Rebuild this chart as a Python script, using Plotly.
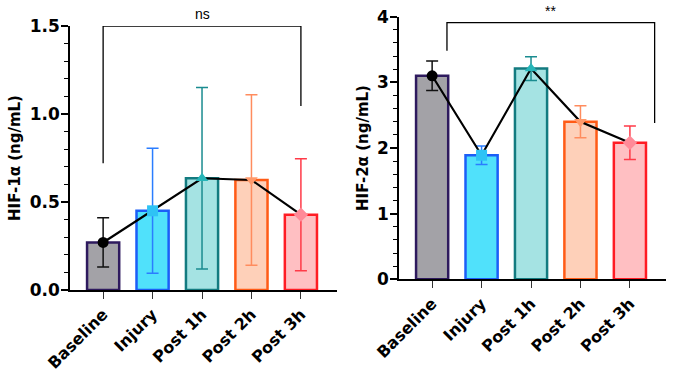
import plotly.graph_objects as go

categories = ["Baseline", "Injury", "Post 1h", "Post 2h", "Post 3h"]

hif1_mean = [0.27, 0.45, 0.635, 0.625, 0.428]
hif1_sd = [0.14, 0.355, 0.515, 0.485, 0.318]

hif2_mean = [3.10, 1.89, 3.21, 2.40, 2.08]
hif2_sd = [0.225, 0.14, 0.18, 0.245, 0.255]

fill_colors = ["#a3a2a7", "#50e1fb", "#a5e3e3", "#fed0b9", "#ffbfc2"]
edge_colors = ["#2e1a5e", "#1b5ef7", "#137b80", "#ff5b16", "#ff1c24"]
err_colors = ["#111111", "#2a7dff", "#1a8c90", "#ff8c5e", "#ff3a48"]
mark_colors = ["#000000", "#2ec3f5", "#26b5b8", "#ff9a6c", "#ff8a98"]
mark_symbols = ["circle", "square", "triangle-up", "triangle-down", "diamond"]

# significance brackets: (x_left, x_right, y_top, left tip, right tip, label)
br1 = dict(x0=0, x1=4, y=1.5, yl=0.72, yr=1.045, label="ns")
br2 = dict(x0=0.3, x1=4.5, y=3.91, yl=3.48, yr=2.38, label="**")

FONT = "DejaVu Sans, sans-serif"
FONT2 = "Liberation Sans, Arial, sans-serif"

W, H = 676, 384


def dx(px):
    return px / W


def dy(px):
    return 1 - px / H


fig = go.Figure()


def add_panel(means, sds, xa, ya):
    for i, c in enumerate(categories):
        fig.add_trace(go.Bar(
            x=[c], y=[means[i]], width=0.65,
            marker=dict(color=fill_colors[i], line=dict(color=edge_colors[i], width=2.5)),
            error_y=dict(type="data", array=[sds[i]], color=err_colors[i],
                         thickness=1.5, width=6),
            xaxis=xa, yaxis=ya, showlegend=False))
    fig.add_trace(go.Scatter(
        x=categories, y=means, mode="lines+markers",
        line=dict(color="black", width=2.2),
        marker=dict(color=mark_colors, symbol=mark_symbols, size=11,
                    line=dict(width=0)),
        xaxis=xa, yaxis=ya, showlegend=False))


add_panel(hif1_mean, hif1_sd, "x", "y")
add_panel(hif2_mean, hif2_sd, "x2", "y2")


def add_bracket(b, xr, yr):
    fig.add_shape(type="path",
                  path=f"M {b['x0']} {b['yl']} L {b['x0']} {b['y']} L {b['x1']} {b['y']} L {b['x1']} {b['yr']}",
                  xref=xr, yref=yr, line=dict(color="black", width=1.3))
    fig.add_annotation(x=(b['x0'] + b['x1']) / 2, y=b['y'], xref=xr, yref=yr,
                       text=b['label'], showarrow=False, yanchor="bottom", yshift=2,
                       font=dict(family=FONT2, size=14, color="black"))


add_bracket(br1, "x", "y")
add_bracket(br2, "x2", "y2")

xcommon = dict(type="category", categoryorder="array", categoryarray=categories,
               showline=True, linecolor="black", linewidth=1.5,
               ticks="outside", ticklen=7, tickwidth=1.3, tickcolor="#333",
               tickangle=-45, range=[-0.67, 4.73], automargin=False,
               tickfont=dict(family=FONT, size=16, color="black", weight="bold"),
               showgrid=False, zeroline=False)

ycommon = dict(showline=True, linecolor="black", linewidth=1.5,
               ticks="outside", ticklen=7, tickwidth=1.5, tickcolor="black",
               ticklabelstandoff=-2, ticklabeloverflow="allow",
               tickfont=dict(family=FONT, size=17, color="black", weight="bold"),
               showgrid=False, zeroline=False, automargin=False,
               title_font=dict(family=FONT, size=15, color="black", weight="bold"),
               title_standoff=5)

fig.update_layout(
    width=W, height=H,
    margin=dict(l=0, r=0, t=0, b=0),
    paper_bgcolor="white", plot_bgcolor="white",
    barmode="overlay",
    xaxis=dict(domain=[dx(70), dx(337)], anchor="y", **xcommon),
    yaxis=dict(domain=[dy(290), dy(26)], anchor="x", range=[0, 1.5],
               tickvals=[0, 0.5, 1.0, 1.5], tickformat=".1f",
               minor=dict(dtick=0.1, ticks="outside", ticklen=4, tickwidth=1.3, tickcolor="black"),
               title=dict(text="HIF-1α (ng/mL)"), **ycommon),
    xaxis2=dict(domain=[dx(399), dx(666)], anchor="y2", **xcommon),
    yaxis2=dict(domain=[dy(279.3), dy(16.7)], anchor="x2", range=[0, 4],
                tickvals=[0, 1, 2, 3, 4],
                minor=dict(dtick=0.2, ticks="outside", ticklen=4, tickwidth=1.3, tickcolor="black"),
                title=dict(text="HIF-2α (ng/mL)"), **ycommon),
)

fig.write_html("out.html", config={"displayModeBar": False},
               post_script="document.body.style.margin='0';")
